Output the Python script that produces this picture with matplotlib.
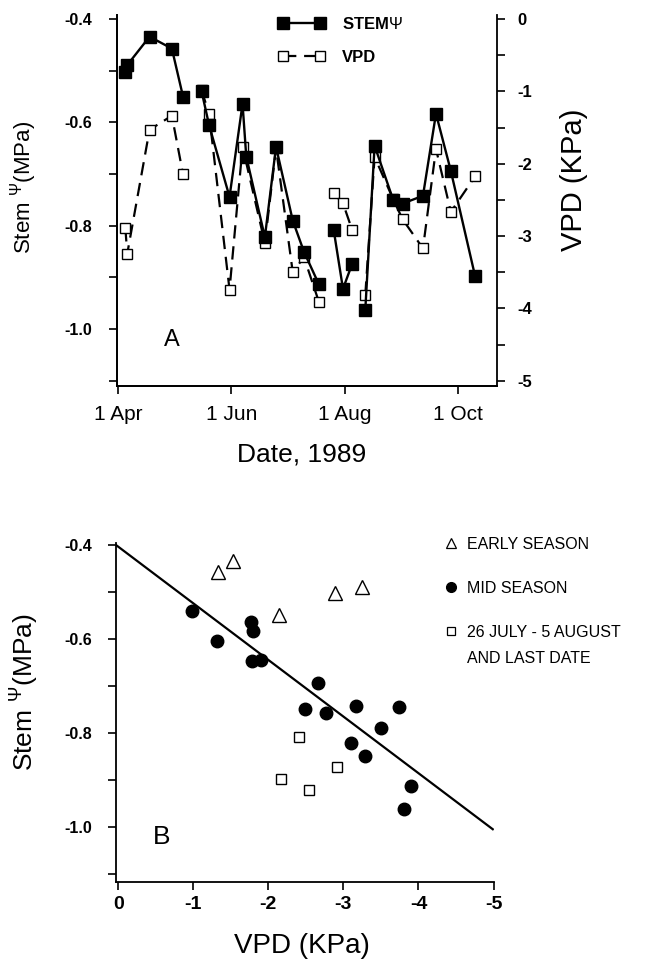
import datetime as dt

import matplotlib
matplotlib.use("Agg")
import matplotlib.pyplot as plt
import matplotlib.dates as mdates
from matplotlib.lines import Line2D
from matplotlib.ticker import MultipleLocator, FormatStrFormatter
import numpy as np

plt.rcParams['font.family'] = ['Liberation Sans', 'DejaVu Sans']
plt.rcParams['mathtext.fontset'] = 'custom'
plt.rcParams['mathtext.rm'] = 'Liberation Sans'

# sampling dates, 1989
dates = ['1989-04-05', '1989-04-06', '1989-04-18', '1989-04-30', '1989-05-06',
         '1989-05-16', '1989-05-20', '1989-05-31', '1989-06-07', '1989-06-09',
         '1989-06-19', '1989-06-25', '1989-07-04', '1989-07-10', '1989-07-18',
         '1989-07-26', '1989-07-31', '1989-08-05',
         '1989-08-12', '1989-08-17', '1989-08-27', '1989-09-01', '1989-09-12',
         '1989-09-19', '1989-09-27', '1989-10-10']
# stem water potential (MPa)
stem = [-0.502, -0.489, -0.434, -0.457, -0.550,
        -0.540, -0.605, -0.744, -0.564, -0.666,
        -0.822, -0.647, -0.790, -0.850, -0.913,
        -0.808, -0.922, -0.873,
        -0.962, -0.645, -0.750, -0.757, -0.742,
        -0.583, -0.694, -0.897]
# vapour pressure deficit (KPa), nan = not measured
vpd = [-2.89, -3.245, -1.53, -1.335, -2.145,
       -0.98, -1.315, -3.74, -1.765, np.nan,
       -3.095, -1.785, -3.50, -3.29, -3.905,
       -2.41, -2.545, -2.92,
       -3.81, -1.905, -2.49, -2.765, -3.17,
       -1.795, -2.665, -2.175]
# line segments in panel A (breaks between groups)
segment = [0, 0, 0, 0, 0,
           1, 1, 1, 1, 1, 1, 1, 1, 1, 1,
           2, 2, 2,
           3, 3, 3, 3, 3, 3, 3, 3]
# season class for panel B
season = ['early'] * 5 + ['mid'] * 10 + ['late'] * 3 + ['mid'] * 7 + ['late']

# regression line, panel B
fit_intercept = -0.404
fit_slope = 0.1204

x = np.array([dt.datetime.strptime(d, '%Y-%m-%d') for d in dates])
stem = np.array(stem)
vpd = np.array(vpd)
segment = np.array(segment)
season = np.array(season)

fig = plt.figure(figsize=(6.54, 9.72), dpi=100)

# ---------------- panel A ----------------
ax = fig.add_axes([0.1789, 0.6029, 0.5810, 0.3817])
ax2 = ax.twinx()
ax.set_zorder(ax2.get_zorder() + 1)
ax.patch.set_visible(False)

for s in np.unique(segment):
    m = segment == s
    ax.plot(x[m], stem[m], color='black', lw=1.7, marker='s', ms=8,
            mfc='black', mec='black', zorder=3)
    mv = m & ~np.isnan(vpd)
    ax2.plot(x[mv], vpd[mv], color='black', lw=1.6, ls=(0, (6, 3.5)),
             marker='s', ms=7, mfc='white', mec='black', mew=1.0)

ax.set_xlim(dt.datetime(1989, 3, 31, 12), dt.datetime(1989, 10, 21, 19))
ax.set_ylim(-1.11, -0.392)
ax2.set_ylim((-1.11 + 0.4) * 5 / 0.7, (-0.392 + 0.4) * 5 / 0.7)

ax.xaxis.set_major_locator(mdates.MonthLocator(bymonth=[4, 6, 8, 10]))
ax.xaxis.set_major_formatter(mdates.DateFormatter('%-d %b'))
ax.yaxis.set_major_locator(MultipleLocator(0.2))
ax.yaxis.set_minor_locator(MultipleLocator(0.1))
ax.yaxis.set_major_formatter(FormatStrFormatter('%.1f'))
ax2.yaxis.set_major_locator(MultipleLocator(1))
ax2.yaxis.set_minor_locator(MultipleLocator(0.5))
ax2.yaxis.set_major_formatter(FormatStrFormatter('%d'))

for a in (ax, ax2):
    a.spines['top'].set_visible(False)
    for sp in a.spines.values():
        sp.set_linewidth(1.3)
ax.spines['right'].set_visible(False)
ax.tick_params(axis='x', direction='out', length=6, width=1.2, pad=8, labelsize=15)
ax.tick_params(axis='y', which='both', direction='out', length=6, width=1.2, pad=12)
ax2.tick_params(axis='y', which='both', direction='out', length=6, width=1.2, pad=9)
for lab in ax.get_yticklabels():
    lab.set_fontsize(11.5)
    lab.set_fontweight('bold')
for lab in ax2.get_yticklabels():
    lab.set_fontsize(12)
    lab.set_fontweight('bold')

ax.text(0.145, 0.124, 'A', transform=ax.transAxes, fontsize=17,
        ha='center', va='center')

hA = [Line2D([], [], color='black', lw=1.7, marker='s', ms=8, mfc='black'),
      Line2D([], [], color='black', lw=1.6, ls=(0, (6, 3.5)), marker='s', ms=7,
             mfc='white', mec='black', mew=1.0)]
legA = ax.legend(hA, ['STEM$\\Psi$', 'VPD'], loc='upper left',
                 bbox_to_anchor=(0.423, 0.9965), frameon=False, numpoints=2,
                 fontsize=12, handlelength=2.84, handletextpad=1.0,
                 labelspacing=1.04, borderpad=0, borderaxespad=0)
for t in legA.get_texts():
    t.set_fontweight('bold')

fig.text(0.0367, 0.8076, 'Stem $^{\\Psi}$(MPa)', rotation=90, fontsize=16,
         ha='center', va='center')
fig.text(0.8777, 0.8148, 'VPD (KPa)', rotation=90, fontsize=21,
         ha='center', va='center')
fig.text(0.4618, 0.5329, 'Date, 1989', fontsize=19, ha='center', va='center')

# ---------------- panel B ----------------
bx = fig.add_axes([0.1774, 0.0926, 0.5772, 0.3488])
early = season == 'early'
mid = season == 'mid'
late = season == 'late'
bx.plot(vpd[early], stem[early], ls='none', marker='^', ms=10, mfc='white',
        mec='black', mew=1.0)
bx.plot(vpd[mid], stem[mid], ls='none', marker='o', ms=9, mfc='black',
        mec='black')
bx.plot(vpd[late], stem[late], ls='none', marker='s', ms=6.5, mfc='white',
        mec='black', mew=1.0)

fit_x = np.array([0.03, -4.99])
bx.plot(fit_x, fit_intercept + fit_slope * fit_x, color='black', lw=1.6)

bx.set_xlim(0.03, -5.0)
bx.set_ylim(-1.117, -0.396)
bx.xaxis.set_major_locator(MultipleLocator(1))
bx.xaxis.set_major_formatter(FormatStrFormatter('%d'))
bx.yaxis.set_major_locator(MultipleLocator(0.2))
bx.yaxis.set_minor_locator(MultipleLocator(0.1))
bx.yaxis.set_major_formatter(FormatStrFormatter('%.1f'))
bx.spines['top'].set_visible(False)
bx.spines['right'].set_visible(False)
for sp in bx.spines.values():
    sp.set_linewidth(1.3)
bx.tick_params(axis='x', direction='out', length=6, width=1.2, pad=4, labelsize=14)
bx.tick_params(axis='y', which='both', direction='out', length=6, width=1.2, pad=11)
for lab in bx.get_xticklabels():
    lab.set_fontweight('bold')
for lab in bx.get_yticklabels():
    lab.set_fontsize(11.5)
    lab.set_fontweight('bold')

bx.text(0.121, 0.134, 'B', transform=bx.transAxes, fontsize=19,
        ha='center', va='center')

hB = [Line2D([], [], ls='none', marker='^', ms=7, mfc='white', mec='black', mew=0.9),
      Line2D([], [], ls='none', marker='o', ms=7, mfc='black', mec='black'),
      Line2D([], [], ls='none', marker='s', ms=5.5, mfc='white', mec='black', mew=0.9)]
legB = bx.legend(hB, ['EARLY SEASON', 'MID SEASON', '26 JULY - 5 AUGUST'],
                 loc='upper left', bbox_to_anchor=(0.870, 1.019), frameon=False,
                 numpoints=1, fontsize=11.5, handlelength=0.8, handletextpad=0.6,
                 labelspacing=1.82, borderpad=0, borderaxespad=0)
bx.annotate('AND LAST DATE', xy=(0, 0), xycoords=legB.get_texts()[2],
            xytext=(0, -26), textcoords='offset pixels', fontsize=11.5,
            ha='left', va='bottom', zorder=6, annotation_clip=False)

fig.text(0.0367, 0.2881, 'Stem $^{\\Psi}$(MPa)', rotation=90, fontsize=19,
         ha='center', va='center')
fig.text(0.4618, 0.0267, 'VPD (KPa)', fontsize=20, ha='center', va='center')

fig.savefig('out.png', dpi=100)
